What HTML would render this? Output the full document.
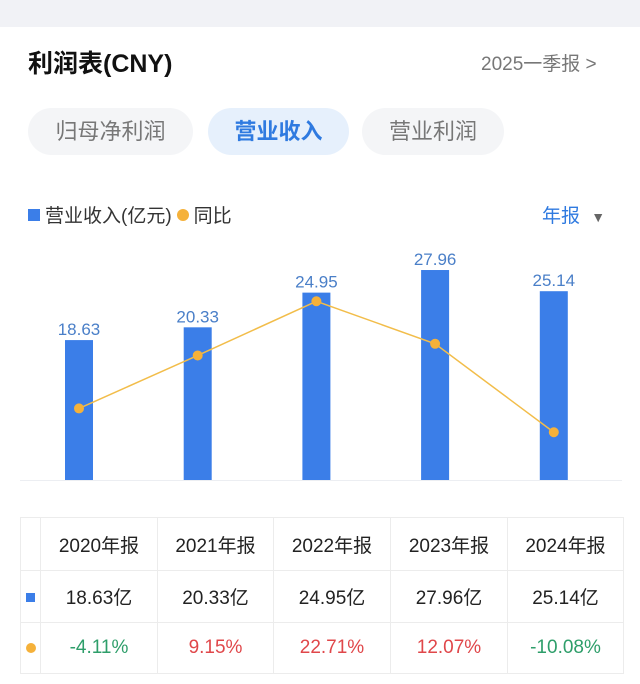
<!DOCTYPE html>
<html><head><meta charset="utf-8"><style>
body{margin:0;width:640px;height:684px;background:#fff;font-family:"Liberation Sans","Noto Sans CJK SC",sans-serif;position:relative;overflow:hidden}
.abs{position:absolute}
.pill{position:absolute;top:108px;height:47px;border-radius:24px;background:#f4f5f7;color:#777;font-size:22px;line-height:47px;text-align:center}
table{position:absolute;left:20px;top:517px;border-collapse:collapse;table-layout:fixed;width:603px}
td{border:1px solid #ececec;text-align:center;font-size:19px;color:#222;padding:0;box-sizing:border-box}
</style></head><body>
<div class="abs" style="left:0;top:0;width:640px;height:27px;background:#f1f2f6"></div>
<div class="abs" style="left:28px;top:44px;font-size:25px;font-weight:bold;color:#111">利润表(CNY)</div>
<div class="abs" style="left:481px;top:49px;font-size:19px;color:#777">2025一季报 &gt;</div>
<div class="pill" style="left:28px;width:165px">归母净利润</div>
<div class="pill" style="left:208px;width:141px;background:#e6f0fc;color:#2f7ae0;font-weight:bold">营业收入</div>
<div class="pill" style="left:362px;width:142px">营业利润</div>
<div class="abs" style="left:28px;top:201px;font-size:19px;color:#333;display:flex;align-items:center">
<span style="width:12px;height:12px;background:#3b7ee8;display:inline-block;margin-right:5px"></span>营业收入(亿元)<span style="width:12px;height:12px;border-radius:6px;background:#f5b13a;display:inline-block;margin:0 5px"></span>同比</div>
<div class="abs" style="left:542px;top:201px;font-size:19px;color:#2f7ae0">年报 <span style="color:#666;font-size:14px;margin-left:6px">▼</span></div>
<svg class="abs" style="left:0;top:0" width="640" height="500" id="chart"></svg>
<table><tbody id="tb"></tbody></table>
<script>
const categories=["2020年报","2021年报","2022年报","2023年报","2024年报"];
const revenue=[18.63,20.33,24.95,27.96,25.14];
const yoy=[-4.11,9.15,22.71,12.07,-10.08];
const ns="http://www.w3.org/2000/svg";
const svg=document.getElementById('chart');
const x=i=>79+i*118.7;
const yBar=v=>480-v*7.51;
const yLine=v=>392-v*3.995;
function mk(t,a){const e=document.createElementNS(ns,t);for(const k in a)e.setAttribute(k,a[k]);svg.appendChild(e);return e;}
const base=mk('line',{x1:20,x2:622,y1:480.5,y2:480.5,stroke:'#eceef2','stroke-width':1});


revenue.forEach((v,i)=>{
 const r=mk('rect',{x:x(i)-14,y:yBar(v),width:28,height:480-yBar(v),fill:'#3b7ee8'});
 
 
 const t=mk('text',{x:x(i),y:yBar(v)-5,'text-anchor':'middle','font-size':17,fill:'#4a7fc8'});
 t.textContent=v.toFixed(2);
 
 
});
const pl=mk('polyline',{points:yoy.map((v,i)=>x(i)+','+yLine(v)).join(' '),fill:'none',stroke:'#f2bd4a','stroke-width':1.5});


yoy.forEach((v,i)=>{
 const c=mk('circle',{cx:x(i),cy:yLine(v),r:5,fill:'#f5b13a'});
 
 
});
const tb=document.getElementById('tb');
const widths=[20,117,116,117,117,116];
function row(cells,h,name){const tr=document.createElement('tr');
cells.forEach((c,j)=>{const td=document.createElement('td');td.style.width=widths[j]+'px';td.style.height=h+'px';td.innerHTML=c.h;if(c.c)td.style.color=c.c;tr.appendChild(td);});tb.appendChild(tr);}
row([{h:''}].concat(categories.map(c=>({h:c}))),53,'header-row');
row([{h:'<span style="display:inline-block;width:9px;height:9px;background:#3b7ee8"></span>'}].concat(revenue.map(v=>({h:v.toFixed(2)+'亿'}))),52,'revenue-row');
row([{h:'<span style="display:inline-block;width:10px;height:10px;border-radius:5px;background:#f5b13a"></span>'}].concat(yoy.map(v=>({h:v.toFixed(2)+'%',c:v<0?'#2e9e6a':'#e0474a'}))),51,'yoy-row');
</script>
</body></html>
